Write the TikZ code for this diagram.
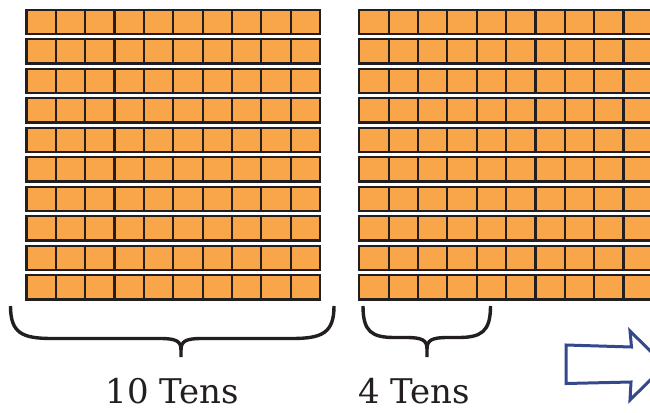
\documentclass[tikz,border=0pt]{standalone}
\usepackage{fontspec}
\newfontfamily\labelfont{DejaVu Serif}
\definecolor{cubefill}{RGB}{249,166,74}
\definecolor{rimcolor}{RGB}{35,31,32}
\definecolor{arrowblue}{RGB}{52,72,140}
\begin{document}
\begin{tikzpicture}[x=1pt,y=-1pt,
  rod/.style={fill=cubefill,draw=rimcolor,line width=2.2pt},
  rodline/.style={draw=rimcolor,line width=2.2pt},
  bracestroke/.style={draw=rimcolor,line width=3.4pt},
  countlabel/.style={font=\labelfont\fontsize{34}{40}\selectfont,text=rimcolor,anchor=base,inner sep=0pt,text depth=0pt},
  bigarrow/.style={draw=arrowblue,line width=3pt,line join=miter}]
\useasboundingbox (0,0) rectangle (650,412);
\clip (0,0) rectangle (650,412);
% rods
\foreach \bx in {26.5,359.3}{
  \foreach \r in {0,...,9}{
    \pgfmathsetmacro\ty{9.7+29.52*\r}
    \filldraw[rod] (\bx,\ty) rectangle ++(293.5,24.2);
    \foreach \c in {1,...,9}{
      \draw[rodline] (\bx+\c*29.35,\ty) -- ++(0,24.2);
    }
  }
}
% left brace
\coordinate (lbL) at (10.5,306);
\coordinate (lbR) at (334,306);
\coordinate (lbM) at (181,357);
\draw[bracestroke] (lbL) .. controls (10.5,333) and (22,338.5) .. (52,338.5) -- (160,338.5)
   .. controls (176,338.5) and (181,341) .. (181,350) -- (lbM);
\draw[bracestroke] (lbR) .. controls (334,333) and (322,338.5) .. (292,338.5) -- (202,338.5)
   .. controls (186,338.5) and (181,341) .. (181,350);
% right brace
\coordinate (rbL) at (363,306);
\coordinate (rbR) at (490.5,306);
\coordinate (rbM) at (427,357);
\draw[bracestroke] (rbL) .. controls (363,332) and (372,337.5) .. (395,337.5) -- (406,337.5)
   .. controls (422,337.5) and (427,340) .. (427,349) -- (rbM);
\draw[bracestroke] (rbR) .. controls (490.5,332) and (481,337.5) .. (458,337.5) -- (448,337.5)
   .. controls (432,337.5) and (427,340) .. (427,349);
% labels
\node[countlabel] (ten) at (172.5,403.5) {10 Tens};
\node[countlabel] (four) at (414,403.5) {4 Tens};
% arrow
\draw[bigarrow] (566,345) -- (631.5,347) -- (630,331) -- (665,365.5) -- (630,400) -- (631,382) -- (566,383.5) -- cycle;
\end{tikzpicture}
\end{document}
